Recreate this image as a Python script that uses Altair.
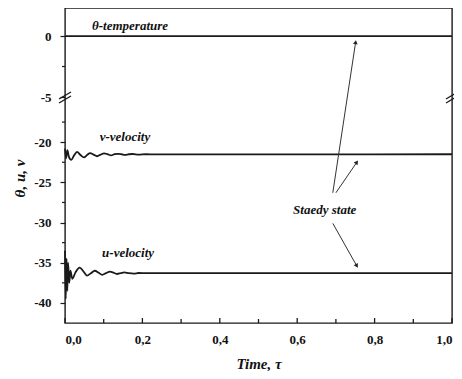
import altair as alt
import pandas as pd
import numpy as np

# ---- data ----
temp_t = [0.0, 1.0]
temp_vals = [0.0, 0.0]

v_t = [0.000, 0.003, 0.006, 0.010, 0.016, 0.024, 0.031, 0.040, 0.049, 0.057, 0.065,
       0.074, 0.083, 0.092, 0.101, 0.110, 0.119, 0.128, 0.137, 0.146, 0.155, 0.165,
       0.175, 0.190, 0.210, 0.230, 1.000]
v_vals = [-20.8, -22.0, -21.0, -21.8, -22.2, -21.6, -21.2, -21.6, -21.9, -21.6, -21.35,
          -21.55, -21.75, -21.55, -21.4, -21.5, -21.65, -21.5, -21.45, -21.5, -21.58, -21.5,
          -21.47, -21.55, -21.5, -21.52, -21.5]

u_t = [0.000, 0.002, 0.004, 0.006, 0.008, 0.011, 0.014, 0.019, 0.027, 0.038, 0.048,
       0.057, 0.067, 0.077, 0.087, 0.096, 0.106, 0.116, 0.126, 0.134, 0.144, 0.153,
       0.165, 0.178, 0.190, 0.210, 1.000]
u_vals = [-33.5, -39.5, -34.5, -38.5, -35.0, -37.5, -36.0, -37.0, -36.2, -35.6, -36.1,
          -36.6, -36.3, -36.0, -36.25, -36.5, -36.3, -36.1, -36.25, -36.4, -36.3, -36.2,
          -36.3, -36.35, -36.28, -36.3, -36.3]

x_major = [0.0, 0.2, 0.4, 0.6, 0.8, 1.0]
x_minor = [0.1, 0.3, 0.5, 0.7, 0.9]
y_major = [0, -5, -20, -25, -30, -35, -40]
y_minor = [-2.5, -17.5, -22.5, -27.5, -32.5, -37.5]

label_texts = ["θ-temperature", "v-velocity", "u-velocity", "Staedy state"]
label_t = [0.168, 0.155, 0.163, 0.671]
label_vals = [0.82, -19.4, -33.75, -28.4]

arrow_tail_t = [0.692, 0.700, 0.692]
arrow_tail_vals = [-26.3, -26.3, -30.1]
arrow_tip_t = [0.751, 0.754, 0.754]
arrow_tip_vals = [-0.5, -22.5, -35.4]

break_t = [0.0, 1.0]
break_val = -5

# ---- scales ----
W, H = 387, 315
Y_DOMAIN = [-42.5, -15, -5, 2.3]
Y_RANGE = [315, 94, 89, 0]

lines = pd.concat([
    pd.DataFrame({"t": temp_t, "val": temp_vals, "series": "theta"}),
    pd.DataFrame({"t": v_t, "val": v_vals, "series": "v"}),
    pd.DataFrame({"t": u_t, "val": u_vals, "series": "u"}),
])

xs = alt.Scale(domain=[0, 1], nice=False, zero=False)
ys = alt.Scale(domain=Y_DOMAIN, range=Y_RANGE, nice=False, zero=False)

SERIF = "Liberation Serif, Times New Roman, serif"

X = alt.X("t:Q", scale=xs, axis=alt.Axis(
    values=x_major, ticks=False, grid=False, domain=False,
    labelExpr="replace(format(datum.value, '.1f'), '.', ',')",
    labelPadding=10, title="Time, τ", titleFontStyle="italic",
    titleFontSize=15, titlePadding=10))
Y = alt.Y("val:Q", scale=ys, axis=alt.Axis(
    values=y_major, ticks=True, tickSize=5, grid=False, domain=False,
    labelExpr="'' + datum.value", labelPadding=9,
    title="θ, u, v", titleFontStyle="italic", titleFontSize=15,
    titleBaseline="middle", titleX=-46, titleY=170))

line_layer = alt.Chart(lines).mark_line(
    interpolate="monotone", color="#1a1a1a", strokeWidth=1.8
).encode(x=X, y=Y, detail="series:N")

# x ticks pointing inward
xmaj = alt.Chart(pd.DataFrame({"t": x_major})).mark_rule(
    color="#1a1a1a", strokeWidth=1.3, y2Offset=-5
).encode(x=X, y=alt.datum(Y_DOMAIN[0]), y2=alt.datum(Y_DOMAIN[0]))
xmin = alt.Chart(pd.DataFrame({"t": x_minor})).mark_rule(
    color="#1a1a1a", strokeWidth=1.3, y2Offset=-4
).encode(x=X, y=alt.datum(Y_DOMAIN[0]), y2=alt.datum(Y_DOMAIN[0]))

# y minor ticks pointing outward
ymin = alt.Chart(pd.DataFrame({"val": y_minor})).mark_rule(
    color="#1a1a1a", strokeWidth=1.2, x2Offset=-3
).encode(y=Y, x=alt.datum(0), x2=alt.datum(0))

# axis break marks
brk_df = pd.DataFrame({"t": break_t, "val": [break_val] * len(break_t)})
brk1 = alt.Chart(brk_df).mark_rule(
    color="#1a1a1a", strokeWidth=1.3, xOffset=-6, x2Offset=6, yOffset=2, y2Offset=-5
).encode(x=X, x2="t:Q", y=Y, y2="val:Q")
brk2 = alt.Chart(brk_df).mark_rule(
    color="#1a1a1a", strokeWidth=1.3, xOffset=-6, x2Offset=6, yOffset=6, y2Offset=-1
).encode(x=X, x2="t:Q", y=Y, y2="val:Q")

# labels
lab_df = pd.DataFrame({"t": label_t, "val": label_vals, "label": label_texts})
labels = alt.Chart(lab_df).mark_text(
    font=SERIF, fontStyle="italic", fontWeight="bold", fontSize=13,
    color="#111"
).encode(x=X, y=Y, text="label:N")

# arrows
def ypx(v):
    return np.interp(v, Y_DOMAIN, Y_RANGE)

ang = []
for a, b, c, d in zip(arrow_tail_t, arrow_tail_vals, arrow_tip_t, arrow_tip_vals):
    dx = (c - a) * W
    dy = ypx(d) - ypx(b)
    ang.append(float(np.degrees(np.arctan2(dx, -dy)) % 360))

arr_df = pd.DataFrame({"t": arrow_tail_t, "val": arrow_tail_vals,
                       "t2": arrow_tip_t, "val2": arrow_tip_vals, "ang": ang})
arr_lines = alt.Chart(arr_df).mark_rule(color="#333", strokeWidth=1).encode(
    x=X, y=Y, x2="t2:Q", y2="val2:Q")
arr_heads = alt.Chart(arr_df).mark_point(
    shape="triangle-up", filled=True, color="#222", size=22, opacity=1
).encode(x=alt.X("t2:Q", scale=xs), y=alt.Y("val2:Q", scale=ys),
         angle=alt.Angle("ang:Q", scale=None))

chart = alt.layer(
    line_layer, xmaj, xmin, ymin, brk1, brk2, labels, arr_lines, arr_heads
).properties(
    width=W, height=H,
    padding={"left": 57, "top": 0, "right": 2, "bottom": 48},
    autosize=alt.AutoSizeParams(type="none"),
).configure_view(
    stroke="#1a1a1a", strokeWidth=1.4
).configure_axis(
    labelFont=SERIF, labelFontWeight="bold", labelFontSize=13,
    labelColor="#111", titleFont=SERIF, titleFontWeight="bold",
    titleColor="#111", tickColor="#1a1a1a", tickWidth=1.2
)

chart.save("out.html", embed_options={"renderer": "svg", "actions": False})
